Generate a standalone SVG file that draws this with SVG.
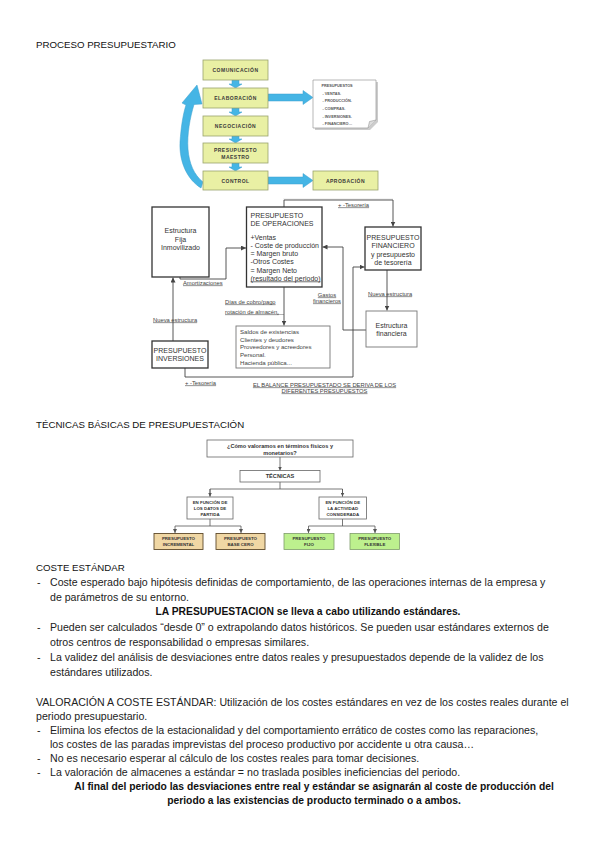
<svg xmlns="http://www.w3.org/2000/svg" width="599" height="848" viewBox="0 0 599 848">
<defs>
<marker id="ah" viewBox="0 0 10 10" refX="10" refY="5" markerWidth="5" markerHeight="5" orient="auto" markerUnits="userSpaceOnUse">
<path d="M0 0 L10 5 L0 10 Z" fill="#444"/>
</marker>
<marker id="ah2" viewBox="0 0 10 10" refX="10" refY="5" markerWidth="4" markerHeight="4" orient="auto" markerUnits="userSpaceOnUse">
<path d="M0 0 L10 5 L0 10 Z" fill="#555"/>
</marker>
<style>
.h{font-family:"Liberation Sans",Arial,sans-serif;font-size:9.7px;fill:#111}
.p{font-family:"Liberation Sans",Arial,sans-serif;font-size:10.6px;fill:#222}
.pb{font-family:"Liberation Sans",Arial,sans-serif;font-size:10.3px;fill:#111;font-weight:bold}
.fb{fill:#E9F0A4;stroke:#9AA36E;stroke-width:0.8}
.ft{font-family:"Liberation Sans",Arial,sans-serif;font-size:5px;font-weight:bold;fill:#3a3a3a;letter-spacing:0.5px}
.blue{fill:#45B5E5;stroke:#3A9FCC;stroke-width:0.5}
.dt{font-family:"Liberation Sans",Arial,sans-serif;font-size:3.8px;font-weight:bold;fill:#555}
.bx{fill:#fff;stroke:#333;stroke-width:1.3}
.bxl{fill:#fff;stroke:#777;stroke-width:0.9}
.t7{font-family:"Liberation Sans",Arial,sans-serif;font-size:7px;fill:#333}
.t6{font-family:"Liberation Sans",Arial,sans-serif;font-size:6.1px;fill:#444}
.lb{font-family:"Liberation Sans",Arial,sans-serif;font-size:5.8px;fill:#444;text-decoration:underline}
.cn{fill:none;stroke:#444;stroke-width:0.9}
.tb{fill:#fff;stroke:#666;stroke-width:0.8}
.tt{font-family:"Liberation Sans",Arial,sans-serif;font-size:5.6px;font-weight:bold;fill:#333}
.ts{font-family:"Liberation Sans",Arial,sans-serif;font-size:4.4px;font-weight:bold;fill:#333}
.tan{fill:#F0D7A4;stroke:#5E4A2A;stroke-width:0.9}
.grn{fill:#BDF08E;stroke:#7E9C6A;stroke-width:0.8}
.tl{fill:none;stroke:#555;stroke-width:0.8}
</style>
</defs>
<rect width="599" height="848" fill="#fff"/>

<!-- Headings -->
<text class="h" x="36" y="47.5">PROCESO PRESUPUESTARIO</text>

<!-- Flowchart 1 -->
<g id="flow-arrows">
<path class="blue" d="M232 80 H239 V84 H242 L235.5 88 L229 84 H232 Z"/>
<path class="blue" d="M232 108 H239 V112 H242 L235.5 116 L229 112 H232 Z"/>
<path class="blue" d="M232 136 H239 V139 H242 L235.5 143 L229 139 H232 Z"/>
<path class="blue" d="M232 163 H239 V167 H242 L235.5 171 L229 167 H232 Z"/>
<path class="blue" d="M268 94 H303 V90.5 L313 97.5 L303 104.5 V101 H268 Z"/>
<path class="blue" d="M268 177 H303 V173.5 L313 180.5 L303 187.5 V184 H268 Z"/>
<path class="blue" d="M201 188 C188 180 179 163 180 142 C181 127 183 114 186 105 L182 103 L197 85 L202 104 L194 104.5 C190 118 187 134 188 149 C189 163 194 175 203 182 Z"/>
</g>
<g id="n-comunicacion"><rect class="fb" x="203" y="60" width="65" height="20"/><text class="ft" x="235.5" y="72" text-anchor="middle">COMUNICACIÓN</text></g>
<g id="n-elaboracion"><rect class="fb" x="203" y="88" width="65" height="20"/><text class="ft" x="235.5" y="100" text-anchor="middle">ELABORACIÓN</text></g>
<g id="n-negociacion"><rect class="fb" x="203" y="116" width="65" height="20"/><text class="ft" x="235.5" y="128" text-anchor="middle">NEGOCIACIÓN</text></g>
<g id="n-maestro"><rect class="fb" x="203" y="143" width="65" height="20"/><text class="ft" x="235.5" y="151.5" text-anchor="middle">PRESUPUESTO</text><text class="ft" x="235.5" y="158.5" text-anchor="middle">MAESTRO</text></g>
<g id="n-control"><rect class="fb" x="203" y="171" width="65" height="19"/><text class="ft" x="235.5" y="182.5" text-anchor="middle">CONTROL</text></g>
<g id="n-aprobacion"><rect class="fb" x="313" y="171" width="65" height="19"/><text class="ft" x="345.5" y="182.5" text-anchor="middle">APROBACIÓN</text></g>
<g id="n-presupuestos">
<path d="M315 82 H378 V122 L370 130 H315 Z" fill="#ccc"/>
<path d="M313 80 H376 V120 L368 128 H313 Z" fill="#fff" stroke="#999" stroke-width="0.7"/>
<path d="M368 128 L369.5 121.5 L376 120" fill="#ddd" stroke="#999" stroke-width="0.6"/>
<text class="dt" x="321.5" y="86.5">PRESUPUESTOS</text>
<text class="dt" x="322.5" y="94.5">- VENTAS.</text>
<text class="dt" x="322.5" y="102">- PRODUCCIÓN.</text>
<text class="dt" x="322.5" y="109.5">- COMPRAS.</text>
<text class="dt" x="322.5" y="117.5">- INVERSIONES.</text>
<text class="dt" x="322.5" y="125">- FINANCIERO…</text>
</g>
<line x1="283" y1="199" x2="393" y2="199" stroke="#e2e2e2" stroke-width="0.8"/>

<!-- Diagram 2 connectors -->
<g id="connectors-2">
<path class="cn" d="M284 207 V200 H393 V226.5" marker-end="url(#ah)"/>
<path class="cn" d="M180 277 V279 H226 V248 H246" marker-end="url(#ah)"/>
<path class="cn" d="M284 287 V325.5" marker-end="url(#ah)"/>
<path class="cn" d="M366 330 H343 V247 H322.5" marker-end="url(#ah)"/>
<path class="cn" d="M387 270 V310.5" marker-end="url(#ah)"/>
<path class="cn" d="M185 368 V377 H353 V267 H364.5" marker-end="url(#ah)"/>
<path class="cn" d="M173 341 V277.5" marker-end="url(#ah)"/>
</g>
<g id="labels-2">
<text class="lb" x="338" y="206.5">+ -Tesorería</text>
<text class="lb" x="183" y="284.5">Amortizaciones</text>
<text class="lb" x="225" y="303.5">Días de cobro/pago</text>
<text class="lb" x="225" y="313.5">rotación de almacén.</text>
<line x1="277" y1="314.5" x2="284" y2="314.5" stroke="#444" stroke-width="0.4"/>
<text class="lb" x="327" y="296.5" text-anchor="middle">Gastos</text>
<text class="lb" x="327" y="302.5" text-anchor="middle">financieros</text>
<text class="lb" x="368" y="295.5">Nueva estructura</text>
<text class="lb" x="153" y="321.5">Nueva estructura</text>
<text class="lb" x="185" y="384.5">+ -Tesorería</text>
<text class="lb" x="324.5" y="386.5" text-anchor="middle">EL BALANCE PRESUPUESTADO SE DERIVA DE LOS</text>
<text class="lb" x="324.5" y="392.5" text-anchor="middle">DIFERENTES PRESUPUESTOS</text>
</g>
<g id="n-estructura-fija"><rect class="bx" x="152" y="207" width="57" height="70"/>
<text class="t7" x="180.5" y="233" text-anchor="middle">Estructura</text>
<text class="t7" x="180.5" y="241.5" text-anchor="middle">Fija</text>
<text class="t7" x="180.5" y="250" text-anchor="middle">Inmovilizado</text></g>
<g id="n-operaciones"><rect class="bx" x="246.5" y="207" width="75.5" height="80"/>
<text class="t7" x="250.5" y="218">PRESUPUESTO</text>
<text class="t7" x="250.5" y="226">DE OPERACIONES</text>
<text class="t7" x="250.5" y="239.5">+Ventas</text>
<text class="t7" x="250.5" y="248">- Coste de producción</text>
<text class="t7" x="250.5" y="256">= Margen bruto</text>
<text class="t7" x="250.5" y="264">-Otros Costes</text>
<text class="t7" x="250.5" y="272.5">= Margen Neto</text>
<text class="t7" x="250.5" y="280.5" text-decoration="underline">(resultado del periodo)</text></g>
<g id="n-financiero"><rect class="bx" x="365" y="227" width="56" height="43"/>
<text class="t7" x="393" y="239.5" text-anchor="middle">PRESUPUESTO</text>
<text class="t7" x="393" y="248" text-anchor="middle">FINANCIERO</text>
<text class="t7" x="393" y="256.5" text-anchor="middle">y presupuesto</text>
<text class="t7" x="393" y="264.5" text-anchor="middle">de tesorería</text></g>
<g id="n-estructura-financiera"><rect class="bxl" x="366" y="311" width="51" height="36"/>
<text class="t7" x="391.5" y="327.5" text-anchor="middle">Estructura</text>
<text class="t7" x="391.5" y="335.5" text-anchor="middle">financiera</text></g>
<g id="n-saldos"><rect class="bxl" x="236" y="326" width="94" height="42"/>
<text class="t6" x="240" y="333.5">Saldos de existencias</text>
<text class="t6" x="240" y="341.5">Clientes y deudores</text>
<text class="t6" x="240" y="349">Proveedores y acreedores</text>
<text class="t6" x="240" y="357">Personal.</text>
<text class="t6" x="240" y="364.5">Hacienda pública...</text></g>
<g id="n-inversiones"><rect class="bx" x="152" y="341" width="56" height="27"/>
<text class="t7" x="180" y="352.5" text-anchor="middle">PRESUPUESTO</text>
<text class="t7" x="180" y="361" text-anchor="middle">INVERSIONES</text></g>

<text class="h" x="36" y="427.5">TÉCNICAS BÁSICAS DE PRESUPUESTACIÓN</text>

<!-- Diagram 3 -->
<g id="connectors-3">
<path class="tl" d="M280 457 V470.5" marker-end="url(#ah2)"/>
<path class="tl" d="M280 482 V489 M210 496.5 V489 H342.5 V496.5"/>
<path class="tl" d="M210 489 V496.5" marker-end="url(#ah2)"/>
<path class="tl" d="M342.5 489 V496.5" marker-end="url(#ah2)"/>
<path class="tl" d="M210 519 V526 H241"/>
<path class="tl" d="M175 526 H210"/>
<path class="tl" d="M175 526 V533" marker-end="url(#ah2)"/>
<path class="tl" d="M241 526 V533" marker-end="url(#ah2)"/>
<path class="tl" d="M342.5 519 V526 M308.5 526 H375"/>
<path class="tl" d="M308.5 526 V533" marker-end="url(#ah2)"/>
<path class="tl" d="M375 526 V533" marker-end="url(#ah2)"/>
</g>
<g id="n-pregunta"><rect class="tb" x="207" y="440" width="146" height="17"/>
<text class="tt" x="280" y="447.5" text-anchor="middle">¿Cómo valoramos en términos físicos y</text>
<text class="tt" x="280" y="454.5" text-anchor="middle">monetarios?</text></g>
<g id="n-tecnicas"><rect class="tb" x="240" y="470.5" width="80" height="11.5"/>
<text class="tt" x="280" y="478.3" text-anchor="middle">TÉCNICAS</text></g>
<g id="n-datos"><rect class="tb" x="187" y="497" width="46" height="22"/>
<text class="ts" x="210" y="503.5" text-anchor="middle">EN FUNCIÓN DE</text>
<text class="ts" x="210" y="509.5" text-anchor="middle">LOS DATOS DE</text>
<text class="ts" x="210" y="515.8" text-anchor="middle">PARTIDA</text></g>
<g id="n-actividad"><rect class="tb" x="319" y="497" width="47.5" height="22"/>
<text class="ts" x="342.75" y="503.5" text-anchor="middle">EN FUNCIÓN DE</text>
<text class="ts" x="342.75" y="509.5" text-anchor="middle">LA ACTIVIDAD</text>
<text class="ts" x="342.75" y="515.8" text-anchor="middle">CONSIDERADA</text></g>
<g id="n-incremental"><rect class="tan" x="154" y="533.5" width="49" height="16"/>
<text class="ts" x="178.5" y="540" text-anchor="middle">PRESUPUESTO</text>
<text class="ts" x="178.5" y="546.3" text-anchor="middle">INCREMENTAL</text></g>
<g id="n-basecero"><rect class="tan" x="216" y="533.5" width="49" height="16"/>
<text class="ts" x="240.5" y="540" text-anchor="middle">PRESUPUESTO</text>
<text class="ts" x="240.5" y="546.3" text-anchor="middle">BASE CERO</text></g>
<g id="n-fijo"><rect class="grn" x="284" y="533.5" width="50" height="16"/>
<text class="ts" x="309" y="540" text-anchor="middle">PRESUPUESTO</text>
<text class="ts" x="309" y="546.3" text-anchor="middle">FIJO</text></g>
<g id="n-flexible"><rect class="grn" x="350" y="533.5" width="49.5" height="16"/>
<text class="ts" x="374.75" y="540" text-anchor="middle">PRESUPUESTO</text>
<text class="ts" x="374.75" y="546.3" text-anchor="middle">FLEXIBLE</text></g>

<!-- Text -->
<text class="h" x="36" y="570.5">COSTE ESTÁNDAR</text>
<text class="p" x="37" y="585.5">-</text>
<text class="p" x="50" y="585.5">Coste esperado bajo hipótesis definidas de comportamiento, de las operaciones internas de la empresa y</text>
<text class="p" x="50" y="600.5">de parámetros de su entorno.</text>
<text class="pb" x="308" y="614.5" text-anchor="middle">LA PRESUPUESTACION se lleva a cabo utilizando estándares.</text>
<text class="p" x="37" y="630.5">-</text>
<text class="p" x="50" y="630.5">Pueden ser calculados “desde 0” o extrapolando datos históricos. Se pueden usar estándares externos de</text>
<text class="p" x="50" y="645.5">otros centros de responsabilidad o empresas similares.</text>
<text class="p" x="37" y="660.5">-</text>
<text class="p" x="50" y="660.5">La validez del análisis de desviaciones entre datos reales y presupuestados depende de la validez de los</text>
<text class="p" x="50" y="675.5">estándares utilizados.</text>
<text class="p" x="36" y="705.5">VALORACIÓN A COSTE ESTÁNDAR: Utilización de los costes estándares en vez de los costes reales durante el</text>
<text class="p" x="36" y="719.5">periodo presupuestario.</text>
<text class="p" x="37" y="733.5">-</text>
<text class="p" x="50" y="733.5">Elimina los efectos de la estacionalidad y del comportamiento errático de costes como las reparaciones,</text>
<text class="p" x="50" y="747.5">los costes de las paradas imprevistas del proceso productivo por accidente u otra causa…</text>
<text class="p" x="37" y="761.5">-</text>
<text class="p" x="50" y="761.5">No es necesario esperar al cálculo de los costes reales para tomar decisiones.</text>
<text class="p" x="37" y="775.5">-</text>
<text class="p" x="50" y="775.5">La valoración de almacenes a estándar = no traslada posibles ineficiencias del periodo.</text>
<text class="pb" x="314" y="789.5" text-anchor="middle">Al final del periodo las desviaciones entre real y estándar se asignarán al coste de producción del</text>
<text class="pb" x="314" y="803.5" text-anchor="middle">periodo a las existencias de producto terminado o a ambos.</text>
</svg>
